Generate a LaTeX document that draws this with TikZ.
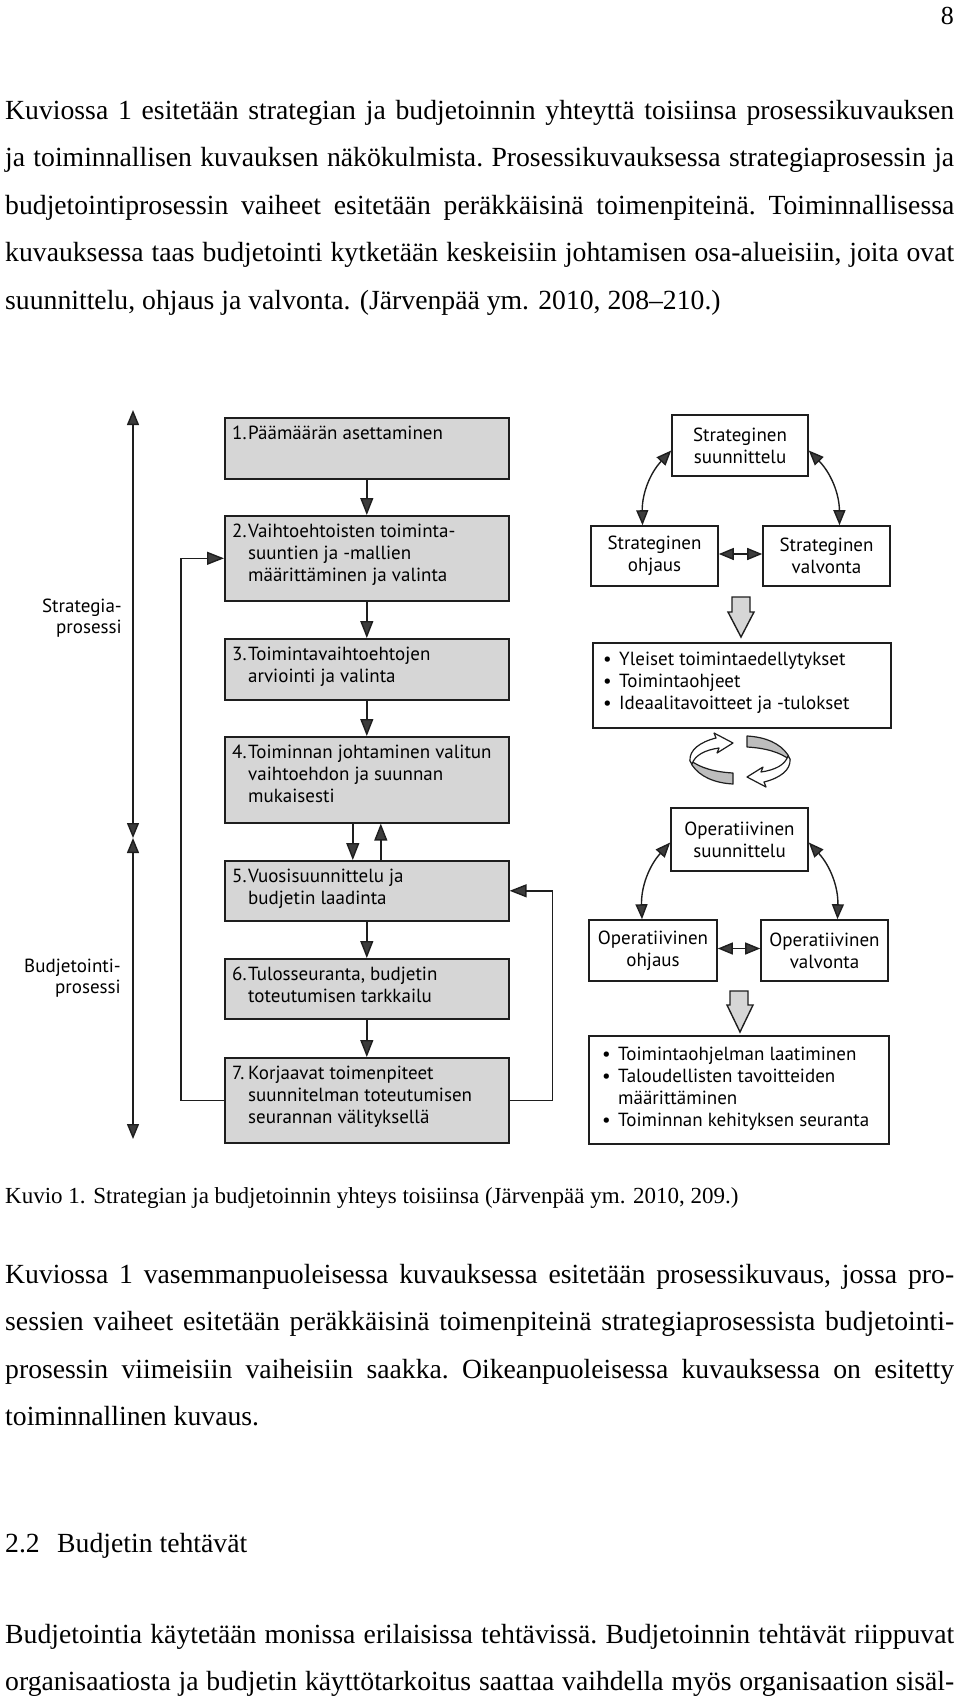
\documentclass[tikz,border=0pt]{standalone}
\usepackage{fontspec}
\setmainfont{Liberation Serif}
\newfontfamily\dfont{PT Sans}
\usetikzlibrary{arrows.meta,calc}
\definecolor{ink}{HTML}{1E1E1E}
\definecolor{boxgray}{HTML}{D6D6D6}
\definecolor{tipgray}{HTML}{3C3C3C}
\definecolor{bandgray}{HTML}{BDBDBD}
\tikzset{
 body/.style={anchor=base west, inner sep=0pt, font=\fontsize{27.7}{47.5}\selectfont},
 pbox/.style={draw=ink, fill=boxgray, line width=1.6pt, anchor=north west, inner sep=0pt, minimum width=284pt},
 wbox/.style={draw=ink, fill=white, line width=1.6pt, inner sep=0pt, font=\dfont\fontsize{19}{22}\selectfont, align=center},
 btxt/.style={anchor=base west, inner sep=0pt, font=\dfont\fontsize{19}{22}\selectfont, align=left},
 lbl/.style={anchor=base east, inner sep=0pt, font=\dfont\fontsize{19}{21}\selectfont, align=right},
 arr/.style={draw=ink, line width=1.4pt, -{Triangle[length=17pt,width=13pt,fill=tipgray]}},
 darr/.style={draw=ink, line width=1.4pt, {Triangle[length=15pt,width=12pt,fill=tipgray]}-{Triangle[length=15pt,width=12pt,fill=tipgray]}},
 bigarr/.style={draw=ink, fill=boxgray, line width=1.4pt, line join=miter},
 band/.style={draw=ink, line width=1.2pt, line join=round},
}
\newcommand{\jl}[1]{{\frenchspacing\spaceskip=0.25em plus 2em minus 0.15em\relax\makebox[949pt][s]{#1}}}
\newcommand{\nm}[1]{\makebox[16pt][l]{#1}}
\newcommand{\ind}{\hspace*{16pt}}
\begin{document}
\begin{tikzpicture}[x=1pt,y=-1pt]
\useasboundingbox (0,0) rectangle (960,1702);
% page number
\node[body, anchor=base east, font=\fontsize{26}{30}\selectfont] (pg) at (954,25) {8};
% paragraph 1
\node[body] (p1a) at (5,119) {\jl{Kuviossa 1 esitetään strategian ja budjetoinnin yhteyttä toisiinsa prosessikuvauksen}};
\node[body] (p1b) at (5,166.5) {\jl{ja toiminnallisen kuvauksen näkökulmista. Prosessikuvauksessa strategiaprosessin ja}};
\node[body] (p1c) at (5,214) {\jl{budjetointiprosessin vaiheet esitetään peräkkäisinä toimenpiteinä. Toiminnallisessa}};
\node[body] (p1d) at (5,261.5) {\jl{kuvauksessa taas budjetointi kytketään keskeisiin johtamisen osa-alueisiin, joita ovat}};
\node[body] (p1e) at (5,309) {suunnittelu, ohjaus ja valvonta. (Järvenpää ym. 2010, 208–210.)};

% ---------- left process diagram ----------
\node[pbox, minimum height=61pt] (b1) at (224,417) {};
\node[pbox, minimum height=85pt] (b2) at (224,515) {};
\node[pbox, minimum height=61pt] (b3) at (224,638) {};
\node[pbox, minimum height=86pt] (b4) at (224,736) {};
\node[pbox, minimum height=60pt] (b5) at (224,860) {};
\node[pbox, minimum height=60pt] (b6) at (224,958) {};
\node[pbox, minimum height=85pt] (b7) at (224,1057) {};

\node[btxt] (t1) at (232,439) {\nm{1.}Päämäärän asettaminen};
\node[btxt] (t2) at (232,581) {\nm{2.}Vaihtoehtoisten toiminta-\\\ind suuntien ja -mallien\\\ind määrittäminen ja valinta};
\node[btxt] (t3) at (232,682) {\nm{3.}Toimintavaihtoehtojen\\\ind arviointi ja valinta};
\node[btxt] (t4) at (232,802) {\nm{4.}Toiminnan johtaminen valitun\\\ind vaihtoehdon ja suunnan\\\ind mukaisesti};
\node[btxt] (t5) at (232,904) {\nm{5.}Vuosisuunnittelu ja\\\ind budjetin laadinta};
\node[btxt] (t6) at (232,1002) {\nm{6.}Tulosseuranta, budjetin\\\ind toteutumisen tarkkailu};
\node[btxt] (t7) at (232,1123) {\nm{7.}Korjaavat toimenpiteet\\\ind suunnitelman toteutumisen\\\ind seurannan välityksellä};

\draw[arr] (b1.south) -- (b2.north);
\draw[arr] (b2.south) -- (b3.north);
\draw[arr] (b3.south) -- (b4.north);
\draw[arr] ([xshift=-14pt]b4.south) -- ([xshift=-14pt]b5.north);
\draw[arr] ([xshift=14pt]b5.north) -- ([xshift=14pt]b4.south);
\draw[arr] (b5.south) -- (b6.north);
\draw[arr] (b6.south) -- (b7.north);
\draw[arr] (b7.west) -- ++(-43,0) |- (b2.west);
\draw[arr] (b7.east) -- ++(43,0) |- (b5.east);

% process spans
\coordinate (sTop) at (133,410);
\coordinate (sMid) at (133,838);
\coordinate (sBot) at (133,1139);
\draw[darr] (sTop) -- (sMid);
\draw[darr] (sMid) -- (sBot);
\node[lbl] (lS) at (122,633) {Strategia-\\prosessi};
\node[lbl] (lB) at (121,993) {Budjetointi-\\prosessi};

% ---------- right functional diagram ----------
\node[wbox, minimum width=136pt, minimum height=61pt] (ss) at (740,445.5) {Strateginen\\suunnittelu};
\node[wbox, minimum width=127pt, minimum height=60pt] (so) at (654.5,556) {Strateginen\\ohjaus};
\node[wbox, minimum width=127pt, minimum height=60pt] (sv) at (826.5,556) {Strateginen\\valvonta};
\draw[darr] ([xshift=-12pt]so.north) to[bend left=22] ([yshift=-5pt]ss.west);
\draw[darr] ([yshift=-5pt]ss.east) to[bend left=22] ([xshift=13pt]sv.north);
\draw[darr] ([yshift=2pt]so.east) -- ([yshift=2pt]sv.west);
\draw[bigarr] (732,597) -- (750,597) -- (750,612) -- (754,612) -- (741,637) -- (728,612) -- (732,612) -- cycle;
\node[draw=ink, line width=1.6pt, anchor=north west, minimum width=298pt, minimum height=85pt, inner sep=0pt] (bl1) at (592,642) {};
\node[btxt] (bt1) at (603,709) {\nm{\textbullet}Yleiset toimintaedellytykset\\\nm{\textbullet}Toimintaohjeet\\\nm{\textbullet}Ideaalitavoitteet ja -tulokset};

% circular arrows
\begin{scope}
\draw[band, fill=bandgray] (690,760) .. controls (700,768) and (715,772) .. (733,773) -- (733,784) .. controls (715,783) and (700,777) .. (692,765) -- cycle;
\draw[band, fill=white] (690,761) .. controls (689,750) and (700,742) .. (716,738) -- (714,733) -- (733,743) -- (717,753) -- (719,748) .. controls (705,750) and (695,755) .. (692,764) -- cycle;
\end{scope}
\begin{scope}[rotate around={180:(740,760)}]
\draw[band, fill=bandgray] (690,760) .. controls (700,768) and (715,772) .. (733,773) -- (733,784) .. controls (715,783) and (700,777) .. (692,765) -- cycle;
\draw[band, fill=white] (690,761) .. controls (689,750) and (700,742) .. (716,738) -- (714,733) -- (733,743) -- (717,753) -- (719,748) .. controls (705,750) and (695,755) .. (692,764) -- cycle;
\end{scope}

\node[wbox, minimum width=137pt, minimum height=63pt] (os) at (739.5,839.5) {Operatiivinen\\suunnittelu};
\node[wbox, minimum width=128pt, minimum height=61pt] (oo) at (653,950.5) {Operatiivinen\\ohjaus};
\node[wbox, minimum width=127pt, minimum height=61pt] (ov) at (824.5,950.5) {Operatiivinen\\valvonta};
\draw[darr] ([xshift=-11pt]oo.north) to[bend left=22] ([yshift=-3pt]os.west);
\draw[darr] ([yshift=-3pt]os.east) to[bend left=22] ([xshift=13pt]ov.north);
\draw[darr] ([yshift=2pt]oo.east) -- ([yshift=2pt]ov.west);
\draw[bigarr] (730,991) -- (748,991) -- (748,1005) -- (753,1005) -- (740,1032) -- (727,1005) -- (730,1005) -- cycle;
\node[draw=ink, line width=1.6pt, anchor=north west, minimum width=300pt, minimum height=108pt, inner sep=0pt] (bl2) at (588,1035) {};
\node[btxt] (bt2) at (602,1126) {\nm{\textbullet}Toimintaohjelman laatiminen\\\nm{\textbullet}Taloudellisten tavoitteiden\\\ind määrittäminen\\\nm{\textbullet}Toiminnan kehityksen seuranta};

% caption
\node[body, font=\fontsize{23}{28}\selectfont] (cap) at (5,1203) {Kuvio 1. Strategian ja budjetoinnin yhteys toisiinsa (Järvenpää ym. 2010, 209.)};

% paragraph 2
\node[body] (p2a) at (5,1283) {\jl{Kuviossa 1 vasemmanpuoleisessa kuvauksessa esitetään prosessikuvaus, jossa pro-}};
\node[body] (p2b) at (5,1330.5) {\jl{sessien vaiheet esitetään peräkkäisinä toimenpiteinä strategiaprosessista budjetointi-}};
\node[body] (p2c) at (5,1378) {\jl{prosessin viimeisiin vaiheisiin saakka. Oikeanpuoleisessa kuvauksessa on esitetty}};
\node[body] (p2d) at (5,1425.5) {toiminnallinen kuvaus.};

% heading
\node[body] (h1) at (5,1552) {2.2};
\node[body] (h2) at (57,1552) {Budjetin tehtävät};

% paragraph 3
\node[body] (p3a) at (5,1643) {\jl{Budjetointia käytetään monissa erilaisissa tehtävissä. Budjetoinnin tehtävät riippuvat}};
\node[body] (p3b) at (5,1690.5) {\jl{organisaatiosta ja budjetin käyttötarkoitus saattaa vaihdella myös organisaation sisäl-}};
\end{tikzpicture}
\end{document}
